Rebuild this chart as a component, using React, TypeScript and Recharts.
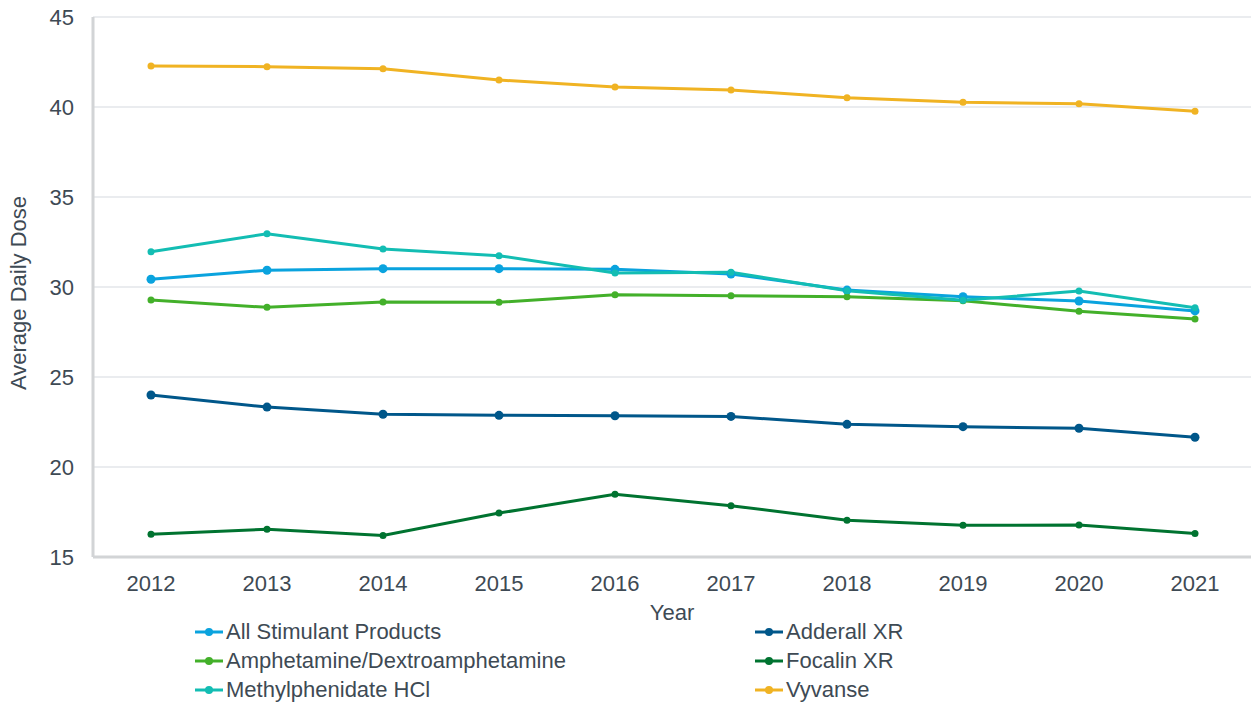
import { LineChart, Line, XAxis, YAxis, CartesianGrid } from 'recharts';

const years = ['2012', '2013', '2014', '2015', '2016', '2017', '2018', '2019', '2020', '2021'];

const allStimulant = [30.43, 30.93, 31.02, 31.02, 30.98, 30.72, 29.83, 29.46, 29.22, 28.67];
const amphetamine = [29.28, 28.87, 29.17, 29.15, 29.57, 29.52, 29.46, 29.24, 28.65, 28.22];
const methylphenidate = [31.96, 32.96, 32.11, 31.74, 30.78, 30.82, 29.79, 29.26, 29.78, 28.85];
const adderallXR = [24.0, 23.33, 22.93, 22.87, 22.85, 22.81, 22.37, 22.24, 22.15, 21.65];
const focalinXR = [16.26, 16.54, 16.2, 17.44, 18.48, 17.85, 17.04, 16.76, 16.78, 16.3];
const vyvanse = [42.28, 42.24, 42.13, 41.5, 41.11, 40.94, 40.52, 40.26, 40.18, 39.76];

const yTicks = [15, 20, 25, 30, 35, 40, 45];

const FONT = '"Liberation Sans", Arial, sans-serif';
const TEXT = '#3e4a54';
const FS = 22;

const series = [
  { key: 'allStimulant', name: 'All Stimulant Products', values: allStimulant, color: '#0aa3de', r: 4.5 },
  { key: 'amphetamine', name: 'Amphetamine/Dextroamphetamine', values: amphetamine, color: '#43b02a', r: 3.5 },
  { key: 'methylphenidate', name: 'Methylphenidate HCl', values: methylphenidate, color: '#13bdb3', r: 3.5 },
  { key: 'adderallXR', name: 'Adderall XR', values: adderallXR, color: '#00578a', r: 4.5 },
  { key: 'focalinXR', name: 'Focalin XR', values: focalinXR, color: '#007330', r: 3.5 },
  { key: 'vyvanse', name: 'Vyvanse', values: vyvanse, color: '#f0b323', r: 3.5 },
];

const data = years.map((year, i) => {
  const row: Record<string, any> = { year };
  series.forEach((s) => {
    row[s.key] = s.values[i];
  });
  return row;
});

function YLabel(props: any) {
  const vb = props.viewBox || {};
  const cy = vb.y + vb.height / 2 + 6;
  return (
    <text
      x={18}
      y={cy}
      transform={`rotate(-90, 18, ${cy})`}
      textAnchor="middle"
      dominantBaseline="central"
      fill={TEXT}
      fontSize={FS}
      fontFamily={FONT}
    >
      Average Daily Dose
    </text>
  );
}

function XLabel(props: any) {
  const vb = props.viewBox || {};
  return (
    <text
      x={vb.x + vb.width / 2}
      y={620}
      textAnchor="middle"
      fill={TEXT}
      fontSize={FS}
      fontFamily={FONT}
    >
      Year
    </text>
  );
}

function LegendIcon({ color }: { color: string }) {
  return (
    <svg width={28} height={12} style={{ display: 'block', marginRight: 3 }}>
      <line x1={0} y1={6} x2={28} y2={6} stroke={color} strokeWidth={3} />
      <circle cx={14} cy={6} r={4} fill={color} />
    </svg>
  );
}

export default function App() {
  const columns = [series.slice(0, 3), series.slice(3)];
  const colLeft = [195, 755];
  return (
    <div style={{ position: 'absolute', left: 0, top: 0, width: 1251, height: 704, background: '#fff', fontFamily: FONT }}>
      <LineChart width={1251} height={640} data={data} margin={{ top: 17, right: 0, bottom: 0, left: 0 }}>
        <CartesianGrid vertical={false} stroke="#e3e6ea" strokeWidth={1.5} />
        <XAxis
          dataKey="year"
          height={83}
          padding={{ left: 58, right: 56 }}
          stroke="#d2d4d6"
          strokeWidth={3}
          tickLine={false}
          tickSize={0}
          tickMargin={18}
          tick={{ fill: TEXT, fontSize: FS, fontFamily: FONT }}
          label={XLabel}
        />
        <YAxis
          width={93}
          domain={[15, 45]}
          ticks={yTicks}
          stroke="#d2d4d6"
          strokeWidth={3}
          tickLine={false}
          tickSize={0}
          tickMargin={19}
          tick={{ fill: TEXT, fontSize: FS, fontFamily: FONT }}
          label={YLabel}
        />
        {series.map((s) => (
          <Line
            key={s.key}
            dataKey={s.key}
            name={s.name}
            type="linear"
            stroke={s.color}
            strokeWidth={3}
            dot={{ r: s.r, fill: s.color, stroke: s.color, strokeWidth: 0 }}
            isAnimationActive={false}
          />
        ))}
      </LineChart>
      {columns.map((col, ci) =>
        col.map((s, ri) => (
          <div
            key={s.key}
            style={{
              position: 'absolute',
              left: colLeft[ci],
              top: 632 + ri * 29 - 13,
              height: 26,
              display: 'flex',
              alignItems: 'center',
              color: TEXT,
              fontSize: FS,
              whiteSpace: 'nowrap',
            }}
          >
            <LegendIcon color={s.color} />
            <span>{s.name}</span>
          </div>
        ))
      )}
    </div>
  );
}
